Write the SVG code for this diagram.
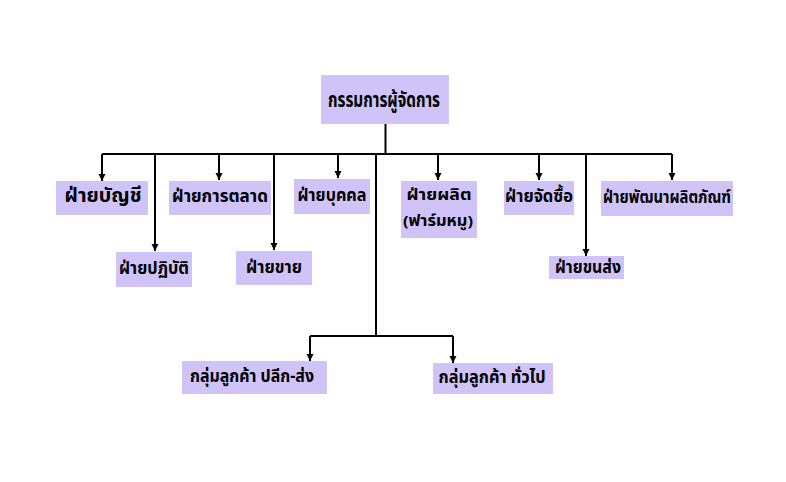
<svg xmlns="http://www.w3.org/2000/svg" width="786" height="482" viewBox="0 0 786 482">
<style>
.box{fill:#cfc3f7}
.t{font-family:"Noto Sans Thai","Noto Sans","DejaVu Sans",sans-serif;font-weight:bold;fill:#000;text-anchor:middle;dominant-baseline:central;font-size:17px}
.big{font-size:21px}
.mid{font-size:19px}
.sm{font-size:15px}
.c{stroke:#000;stroke-width:2;fill:none}
</style>
<defs>
<marker id="a" markerWidth="8" markerHeight="8" refX="4" refY="8" orient="0" markerUnits="userSpaceOnUse" viewBox="0 0 8 8">
<path d="M0.5,1 L7.5,1 L4,8 Z" fill="#000"/>
</marker>
</defs>
<rect width="786" height="482" fill="#fff"/>
<g id="connectors">
<path class="c" d="M385.5,124 V154"/>
<path class="c" d="M102,154 H672"/>
<path class="c" d="M102,154 V181" marker-end="url(#a)"/>
<path class="c" d="M155,154 V251" marker-end="url(#a)"/>
<path class="c" d="M219,154 V180" marker-end="url(#a)"/>
<path class="c" d="M274,154 V250" marker-end="url(#a)"/>
<path class="c" d="M338,154 V178" marker-end="url(#a)"/>
<path class="c" d="M376,154 V336"/>
<path class="c" d="M438,154 V180" marker-end="url(#a)"/>
<path class="c" d="M539,154 V180" marker-end="url(#a)"/>
<path class="c" d="M586,154 V256" marker-end="url(#a)"/>
<path class="c" d="M672,154 V180" marker-end="url(#a)"/>
<path class="c" d="M310,336 H453"/>
<path class="c" d="M310,336 V361" marker-end="url(#a)"/>
<path class="c" d="M453,336 V363" marker-end="url(#a)"/>
</g>
<g id="n-md"><rect class="box" x="321" y="75" width="128" height="49"/><text class="t big" x="384" y="100" textLength="112" lengthAdjust="spacingAndGlyphs">กรรมการผู้จัดการ</text></g>
<g id="n-acc"><rect class="box" x="56" y="181" width="92" height="34"/><text class="t mid" x="103" y="196" textLength="77" lengthAdjust="spacingAndGlyphs">ฝ่ายบัญชี</text></g>
<g id="n-mkt"><rect class="box" x="169" y="181" width="102" height="34"/><text class="t" x="220" y="197" textLength="96" lengthAdjust="spacingAndGlyphs">ฝ่ายการตลาด</text></g>
<g id="n-hr"><rect class="box" x="294" y="179" width="76" height="35"/><text class="t" x="332" y="196" textLength="69" lengthAdjust="spacingAndGlyphs">ฝ่ายบุคคล</text></g>
<g id="n-prod"><rect class="box" x="401" y="181" width="76" height="57"/><text class="t sm" x="439" y="195" textLength="65" lengthAdjust="spacingAndGlyphs">ฝ่ายผลิต</text><text class="t sm" x="438" y="221" textLength="70" lengthAdjust="spacingAndGlyphs">(ฟาร์มหมู)</text></g>
<g id="n-pur"><rect class="box" x="504" y="181" width="70" height="34"/><text class="t" x="539" y="197" textLength="68" lengthAdjust="spacingAndGlyphs">ฝ่ายจัดซื้อ</text></g>
<g id="n-rd"><rect class="box" x="601" y="181" width="132" height="35"/><text class="t" x="667" y="198" textLength="128" lengthAdjust="spacingAndGlyphs">ฝ่ายพัฒนาผลิตภัณฑ์</text></g>
<g id="n-ops"><rect class="box" x="116" y="252" width="76" height="35"/><text class="t" x="154" y="269" textLength="70" lengthAdjust="spacingAndGlyphs">ฝ่ายปฏิบัติ</text></g>
<g id="n-sales"><rect class="box" x="236" y="251" width="76" height="34"/><text class="t" x="274" y="268" textLength="56" lengthAdjust="spacingAndGlyphs">ฝ่ายขาย</text></g>
<g id="n-ship"><rect class="box" x="549" y="256" width="75" height="23"/><text class="t" x="588" y="268" textLength="66" lengthAdjust="spacingAndGlyphs">ฝ่ายขนส่ง</text></g>
<g id="n-cust1"><rect class="box" x="182" y="361" width="145" height="33"/><text class="t" x="252" y="377" textLength="124" lengthAdjust="spacingAndGlyphs">กลุ่มลูกค้า ปลีก-ส่ง</text></g>
<g id="n-cust2"><rect class="box" x="433" y="363" width="120" height="31"/><text class="t" x="492" y="378" textLength="107" lengthAdjust="spacingAndGlyphs">กลุ่มลูกค้า ทั่วไป</text></g>
</svg>
